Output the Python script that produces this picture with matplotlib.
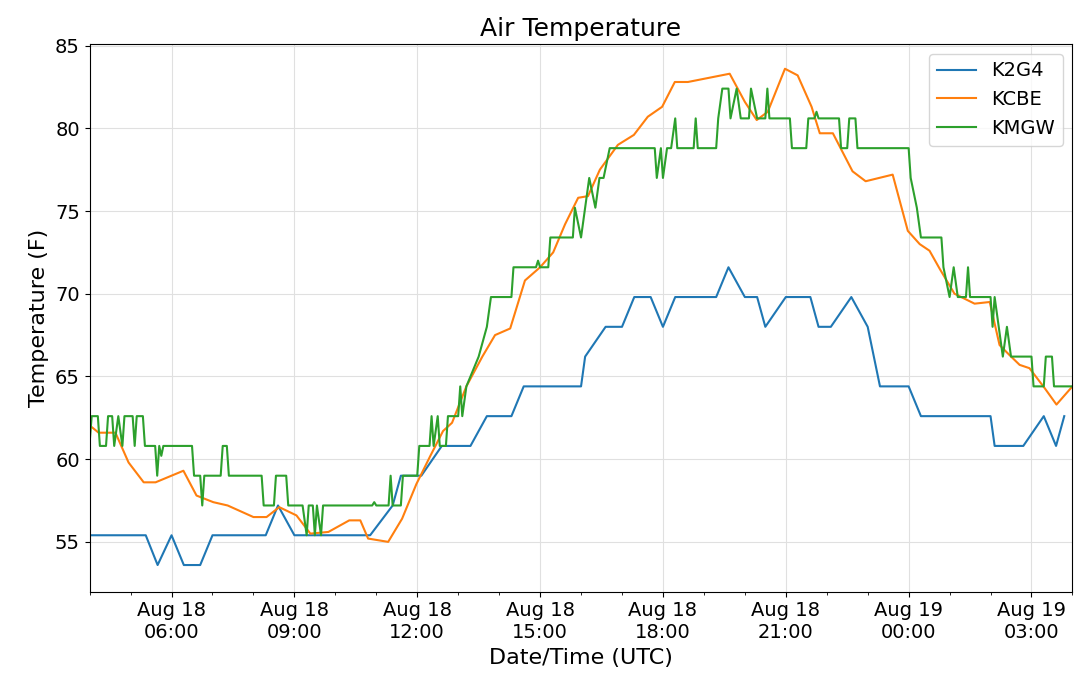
import matplotlib
matplotlib.use('Agg')
import matplotlib.pyplot as plt
import matplotlib.dates as mdates
from datetime import datetime, timedelta

start = datetime(2020, 8, 18, 4, 0)

# hours after start, temperature (F)
k2g4_h = [0.0, 1.37, 1.66, 2.0, 2.3, 2.7, 3.0, 4.3, 4.6, 5.0, 6.85, 7.4, 7.6, 8.1, 8.6, 9.3,
          9.7, 10.3, 10.6, 12.0, 12.1, 12.6, 13.0, 13.3, 13.7, 14.0, 14.3, 15.3, 15.6, 16.0,
          16.3, 16.5, 17.0, 17.6, 17.8, 18.1, 18.6, 19.0, 19.3, 20.0, 20.3, 22.0, 22.1, 22.8,
          23.3, 23.6, 23.8]
k2g4_t = [55.4, 55.4, 53.6, 55.4, 53.6, 53.6, 55.4, 55.4, 57.2, 55.4, 55.4, 57.2, 59.0, 59.0,
          60.8, 60.8, 62.6, 62.6, 64.4, 64.4, 66.2, 68.0, 68.0, 69.8, 69.8, 68.0, 69.8, 69.8,
          71.6, 69.8, 69.8, 68.0, 69.8, 69.8, 68.0, 68.0, 69.8, 68.0, 64.4, 64.4, 62.6, 62.6,
          60.8, 60.8, 62.6, 60.8, 62.6]

kcbe_h = [0.02, 0.22, 0.63, 0.95, 1.32, 1.61, 2.29, 2.61, 3.02, 3.37, 4.0, 4.32, 4.63, 5.05,
          5.39, 5.83, 6.34, 6.61, 6.8, 7.29, 7.63, 7.98, 8.32, 8.63, 8.85, 9.2, 9.59, 9.9, 10.27,
          10.63, 11.0, 11.32, 11.61, 11.93, 12.17, 12.46, 12.9, 13.29, 13.63, 13.98, 14.29,
          14.61, 15.63, 16.0, 16.29, 16.56, 16.98, 17.29, 17.63, 17.83, 18.15, 18.63, 18.95,
          19.61, 19.98, 20.27, 20.51, 20.76, 21.12, 21.61, 21.98, 22.22, 22.46, 22.71, 22.95,
          23.32, 23.61, 24.0]
kcbe_t = [62.0, 61.6, 61.6, 59.8, 58.6, 58.6, 59.3, 57.8, 57.4, 57.2, 56.5, 56.5, 57.1, 56.6,
          55.5, 55.6, 56.3, 56.3, 55.2, 55.0, 56.4, 58.5, 60.2, 61.7, 62.2, 64.4, 66.2, 67.5,
          67.9, 70.8, 71.6, 72.5, 74.2, 75.8, 75.9, 77.5, 79.0, 79.6, 80.7, 81.3, 82.8, 82.8,
          83.3, 81.6, 80.5, 81.0, 83.6, 83.2, 81.3, 79.7, 79.7, 77.4, 76.8, 77.2, 73.8, 73.0,
          72.6, 71.5, 70.0, 69.4, 69.5, 66.9, 66.3, 65.7, 65.5, 64.3, 63.3, 64.4]

kmgw_h = [0.0, 0.05, 0.2, 0.25, 0.4, 0.45, 0.55, 0.6, 0.7, 0.8, 0.85, 1.05, 1.1, 1.15, 1.3,
          1.35, 1.6, 1.65, 1.7, 1.75, 1.8, 2.5, 2.55, 2.7, 2.75, 2.8, 3.2, 3.25, 3.35, 3.4,
          4.2, 4.25, 4.5, 4.55, 4.8, 4.85, 5.1, 5.2, 5.3, 5.35, 5.45, 5.5, 5.55, 5.65, 5.7,
          6.9, 6.95, 7.0, 7.3, 7.35, 7.4, 7.6, 7.65, 8.0, 8.05, 8.3, 8.35, 8.4, 8.5, 8.55,
          8.7, 8.75, 9.0, 9.05, 9.1, 9.2, 9.5, 9.7, 9.8, 10.3, 10.35, 10.9, 10.95, 11.0, 11.2,
          11.25, 11.8, 11.85, 12.0, 12.1, 12.2, 12.35, 12.45, 12.55, 12.7, 13.8, 13.85, 13.95,
          14.0, 14.1, 14.2, 14.3, 14.35, 14.75, 14.8, 14.85, 15.3, 15.35, 15.45, 15.6, 15.65,
          15.8, 15.9, 16.1, 16.15, 16.3, 16.5, 16.55, 16.6, 17.1, 17.15, 17.5, 17.55, 17.7,
          17.75, 17.8, 18.3, 18.35, 18.5, 18.55, 18.7, 18.75, 20.0, 20.05, 20.2, 20.3, 20.8,
          20.85, 21.0, 21.1, 21.2, 21.4, 21.45, 21.5, 22.0, 22.05, 22.1, 22.2, 22.3, 22.4,
          22.5, 23.0, 23.05, 23.3, 23.35, 23.5, 23.55, 23.8, 24.0]
kmgw_t = [61.0, 62.6, 62.6, 60.8, 60.8, 62.6, 62.6, 60.8, 62.6, 60.8, 62.6, 62.6, 60.8, 62.6,
          62.6, 60.8, 60.8, 59.0, 60.8, 60.2, 60.8, 60.8, 59.0, 59.0, 57.2, 59.0, 59.0, 60.8,
          60.8, 59.0, 59.0, 57.2, 57.2, 59.0, 59.0, 57.2, 57.2, 57.2, 55.4, 57.2, 57.2, 55.4,
          57.2, 55.4, 57.2, 57.2, 57.4, 57.2, 57.2, 59.0, 57.2, 57.2, 59.0, 59.0, 60.8, 60.8,
          62.6, 60.8, 62.6, 60.8, 60.8, 62.6, 62.6, 64.4, 62.6, 64.4, 66.2, 68.0, 69.8, 69.8,
          71.6, 71.6, 72.0, 71.6, 71.6, 73.4, 73.4, 75.2, 73.4, 75.2, 77.0, 75.2, 77.0, 77.0,
          78.8, 78.8, 77.0, 78.8, 77.0, 78.8, 78.8, 80.6, 78.8, 78.8, 80.6, 78.8, 78.8, 80.6,
          82.4, 82.4, 80.6, 82.4, 80.6, 80.6, 82.4, 80.6, 80.6, 82.4, 80.6, 80.6, 78.8, 78.8,
          80.6, 80.6, 81.0, 80.6, 80.6, 78.8, 78.8, 80.6, 80.6, 78.8, 78.8, 77.0, 75.2, 73.4,
          73.4, 71.6, 69.8, 71.6, 69.8, 69.8, 71.6, 69.8, 69.8, 68.0, 69.8, 68.0, 66.2, 68.0,
          66.2, 66.2, 64.4, 64.4, 66.2, 66.2, 64.4, 64.4, 64.4]


def to_dates(hours):
    return [start + timedelta(hours=h) for h in hours]


fig, ax = plt.subplots(figsize=(10.8, 6.76), dpi=100)
plt.subplots_adjust(left=0.083, right=0.993, top=0.935, bottom=0.125)
ax.plot(to_dates(k2g4_h), k2g4_t, color='#1f77b4', label='K2G4')
ax.plot(to_dates(kcbe_h), kcbe_t, color='#ff7f0e', label='KCBE')
ax.plot(to_dates(kmgw_h), kmgw_t, color='#2ca02c', label='KMGW')

ax.set_xlim(start, start + timedelta(hours=24))
ax.set_ylim(52, 85.1)
ax.xaxis.set_major_locator(mdates.HourLocator(byhour=[0, 3, 6, 9, 12, 15, 18, 21]))
ax.xaxis.set_minor_locator(mdates.HourLocator())
ax.xaxis.set_major_formatter(mdates.DateFormatter('%b %d\n%H:%M'))
ax.tick_params(labelsize=14)
ax.grid(True, color='#e0e0e0', linewidth=0.8)
ax.set_title('Air Temperature', fontsize=18)
ax.set_xlabel('Date/Time (UTC)', fontsize=16)
ax.set_ylabel('Temperature (F)', fontsize=16)
ax.legend(loc='upper right', fontsize=14)
plt.savefig('out.png')
